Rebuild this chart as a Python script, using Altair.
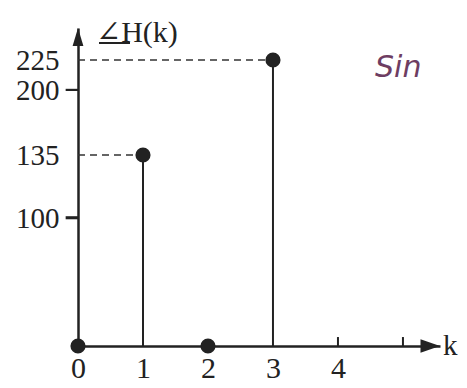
import altair as alt
import pandas as pd

# ---- data ----
k_vals = [0, 1, 2, 3]
phase_vals = [0, 135, 0, 225]
x_label_vals = [0, 1, 2, 3, 4]
y_label_vals = [100, 135, 200, 225]
y_tick_vals = [100, 200]
x_tick_vals = [4, 5]
dash_k = [1, 3]
dash_v = [135, 225]
x_max = 5.57
y_max = 250

FONT = "Liberation Serif, DejaVu Serif, serif"
INK = "#222222"
W, H = 362, 318

xs = alt.Scale(domain=[0, x_max], nice=False, zero=False)
ys = alt.Scale(domain=[0, 100, 135, 200, 225, y_max],
               range=[318, 190, 127, 62, 32, 0], nice=False, zero=False)

pts = pd.DataFrame({"k": k_vals, "v": phase_vals})
dash = pd.DataFrame({"k0": [0] * len(dash_k), "k": dash_k, "v": dash_v})
xt = pd.DataFrame({"k": x_tick_vals, "b": [0] * len(x_tick_vals), "t": [7] * len(x_tick_vals)})
yt = pd.DataFrame({
    "x1": [-0.19] * len(y_tick_vals), "x2": [0] * len(y_tick_vals),
    "lo": [v - 1 for v in y_tick_vals], "hi": [v + 1 for v in y_tick_vals],
})
arrows_y = pd.DataFrame({"k": [0], "v": [y_max]})
arrows_x = pd.DataFrame({"k": [x_max], "v": [0]})

xaxis = alt.Axis(values=x_label_vals, ticks=False, grid=False, title=None,
                 domain=True, domainWidth=2.5, domainColor=INK,
                 labelFont=FONT, labelFontSize=30, labelColor=INK,
                 labelPadding=7, labelFlush=False, labelOverlap=False)
yaxis = alt.Axis(values=y_label_vals, ticks=False, grid=False, title=None,
                 domain=True, domainWidth=2.5, domainColor=INK,
                 labelFont=FONT, labelFontSize=29, labelColor=INK,
                 labelPadding=19, labelFlush=False, labelOverlap=False, labelBound=False)

X = lambda f: alt.X(f, scale=xs, axis=xaxis)
Y = lambda f: alt.Y(f, scale=ys, axis=yaxis)

base = alt.Chart(pts)

stems = base.mark_rule(color=INK, strokeWidth=2).encode(
    x=X("k:Q"), y=Y("v:Q"), y2=alt.datum(0),
)

dots = base.mark_circle(color=INK, size=230, opacity=1).encode(
    x=X("k:Q"), y=Y("v:Q"),
)

dashed = alt.Chart(dash).mark_rule(color="#333333", strokeWidth=1.6, strokeDash=[7, 5]).encode(
    x=X("k0:Q"), x2="k:Q", y=Y("v:Q"),
)

xticks = alt.Chart(xt).mark_rule(color=INK, strokeWidth=2).encode(
    x=X("k:Q"), y=Y("b:Q"), y2="t:Q",
)

yticks = alt.Chart(yt).mark_rect(color=INK, opacity=1, clip=False).encode(
    x=X("x1:Q"), x2="x2:Q", y=Y("lo:Q"), y2="hi:Q",
)

arrow_up = alt.Chart(arrows_y).mark_point(
    shape="M0,0L-0.36,1.2L0.36,1.2Z", filled=True, color=INK, size=900, opacity=1
).encode(x=X("k:Q"), y=Y("v:Q"))

arrow_right = alt.Chart(arrows_x).mark_point(
    shape="M0,0L-1.3,-0.45L-1.3,0.45Z", filled=True, color=INK, size=900, opacity=1
).encode(x=X("k:Q"), y=Y("v:Q"))

title = alt.Chart(pd.DataFrame({"t": ["∠H(k)"]})).mark_text(
    font=FONT, fontSize=30, color=INK, align="left", baseline="alphabetic"
).encode(x=alt.value(18), y=alt.value(14), text="t:N")

title_bar = alt.Chart(pd.DataFrame({"t": ["∠H(k)"]})).mark_rule(color=INK, strokeWidth=2).encode(
    x=alt.value(21), x2=alt.value(52), y=alt.value(15)
)

k_label = alt.Chart(pd.DataFrame({"t": ["k"]})).mark_text(
    font=FONT, fontSize=29, color=INK, align="left", baseline="middle"
).encode(x=alt.value(W + 3), y=alt.value(H), text="t:N")

sin_label = alt.Chart(pd.DataFrame({"t": ["Sin"]})).mark_text(
    font="DejaVu Sans", fontSize=30, fontStyle="italic", color="#6e3d62",
    align="left", baseline="middle"
).encode(x=alt.value(297), y=alt.value(40), text="t:N")

chart = alt.layer(
    stems, dashed, xticks, arrow_up, arrow_right, dots,
    title, title_bar, k_label, sin_label, yticks
).properties(
    width=W, height=H,
    autosize=alt.AutoSizeParams(type="none"),
    padding={"left": 70, "top": 20, "right": 19, "bottom": 42},
    background="white",
).configure_view(stroke=None)

chart.save("out.html", embed_options={"renderer": "svg", "actions": False})
